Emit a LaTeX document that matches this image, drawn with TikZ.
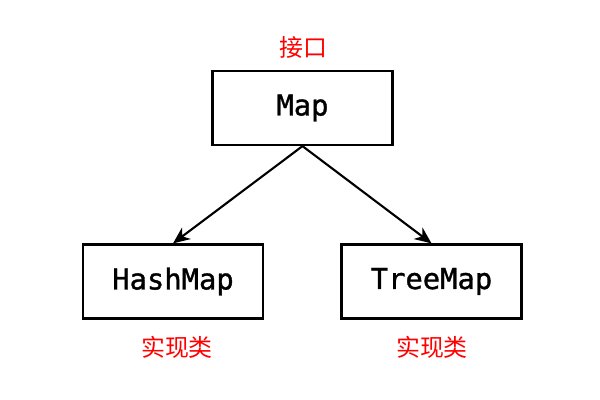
\documentclass[tikz,border=0pt]{standalone}
\usepackage{fontspec}
\newfontfamily\clsfont[FakeBold=1.2]{DejaVu Sans Mono}
\newfontfamily\cjk{Noto Sans CJK SC}
\usetikzlibrary{arrows.meta}
\begin{document}
\begin{tikzpicture}[
    cls/.style={draw, line width=1.6pt, minimum width=4.5cm, minimum height=1.85cm,
      font=\clsfont\fontsize{20.5}{24}\selectfont},
    tag/.style={text=red, font=\cjk\fontsize{17}{20}\selectfont},
    link/.style={-{Stealth[length=4.2mm,width=3.6mm,inset=1.3mm]}, line width=1.5pt}]
        \useasboundingbox (0,0) rectangle (15,10);
        \node[cls] at (7.5625,7.3) (map) {Map};
        \node[cls] at (4.325,2.9625) (hash) {HashMap};
        \node[cls] at (10.7875,2.9625) (tree) {TreeMap};
        \node[tag] at (7.575,8.825) (iface) {接口};
        \node[tag] at (4.425,1.325) (implA) {实现类};
        \node[tag] at (10.8,1.325) (implB) {实现类};
        \draw[link] (map.south) -- (hash.north);
        \draw[link] (map.south) -- (tree.north);
      \end{tikzpicture}
\end{document}
